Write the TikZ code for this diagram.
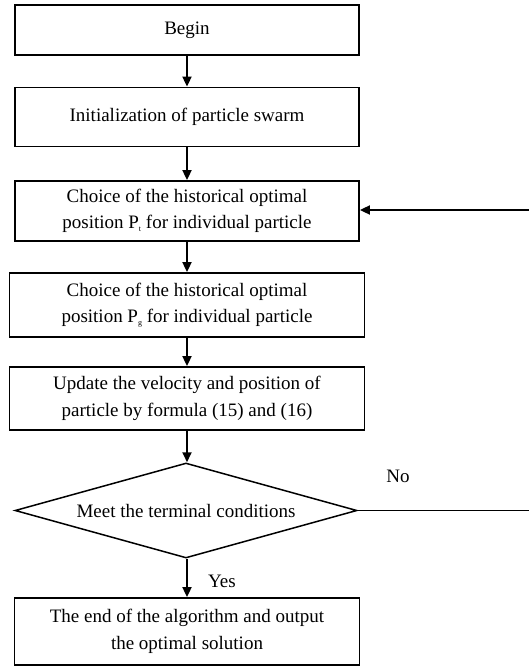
\documentclass[tikz,border=0pt]{standalone}
\usepackage{fontspec}
\setmainfont{Liberation Serif}
\usetikzlibrary{shapes.geometric,arrows.meta}
\tikzset{
  box/.style={draw, line width=1.8pt, align=center, inner sep=0pt,
    font=\fontsize{19}{26.5}\selectfont},
  decision/.style={draw, line width=1.5pt, diamond, aspect=3.6, inner sep=0pt, align=center,
    font=\fontsize{19}{26.5}\selectfont},
  arr/.style={line width=1.8pt, -{Triangle[length=10pt,width=9pt]}},
  plain/.style={line width=1.8pt},
  lbl/.style={font=\fontsize{19}{22}\selectfont, inner sep=0pt}
}
\newcommand{\smallsub}[1]{\raisebox{-0.35ex}{\fontsize{8}{8}\selectfont #1}}
\begin{document}
\begin{tikzpicture}[x=1pt,y=-1pt]
\useasboundingbox (0,0) rectangle (529,666);
\node[box, minimum width=344pt, minimum height=50pt] (b1) at (187,30) {Begin};
\node[box, minimum width=344pt, minimum height=59pt] (b2) at (187,117) {Initialization of particle swarm};
\node[box, minimum width=344pt, minimum height=60pt] (b3) at (187,211) {Choice of the historical optimal\\position P\smallsub{t} for individual particle};
\node[box, minimum width=355pt, minimum height=64pt] (b4) at (187,305) {Choice of the historical optimal\\position P\smallsub{g} for individual particle};
\node[box, minimum width=355pt, minimum height=63pt] (b5) at (187,398.5) {Update the velocity and position of\\particle by formula (15) and (16)};
\node[decision, minimum width=342pt, minimum height=95pt] (d) at (186,510.5) {Meet the terminal conditions};
\node[box, minimum width=345pt, minimum height=67pt] (b6) at (187,631.5) {The end of the algorithm and output\\the optimal solution};
\node[lbl] (no) at (398,476) {No};
\node[lbl] (yes) at (222,581) {Yes};
\coordinate (r1) at (529,210);
\coordinate (r2) at (529,510.5);
\draw[arr] (b1.south) -- (b2.north);
\draw[arr] (b2.south) -- (b3.north);
\draw[arr] (b3.south) -- (b4.north);
\draw[arr] (b4.south) -- (b5.north);
\draw[arr] (b5.south) -- (d.north -| b5.south);
\draw[arr] (d.south -| b6.north) -- (b6.north);
\draw[plain] (d.east) -- (r2);
\draw[arr] (r1) -- (b3.east |- r1);
\end{tikzpicture}
\end{document}
